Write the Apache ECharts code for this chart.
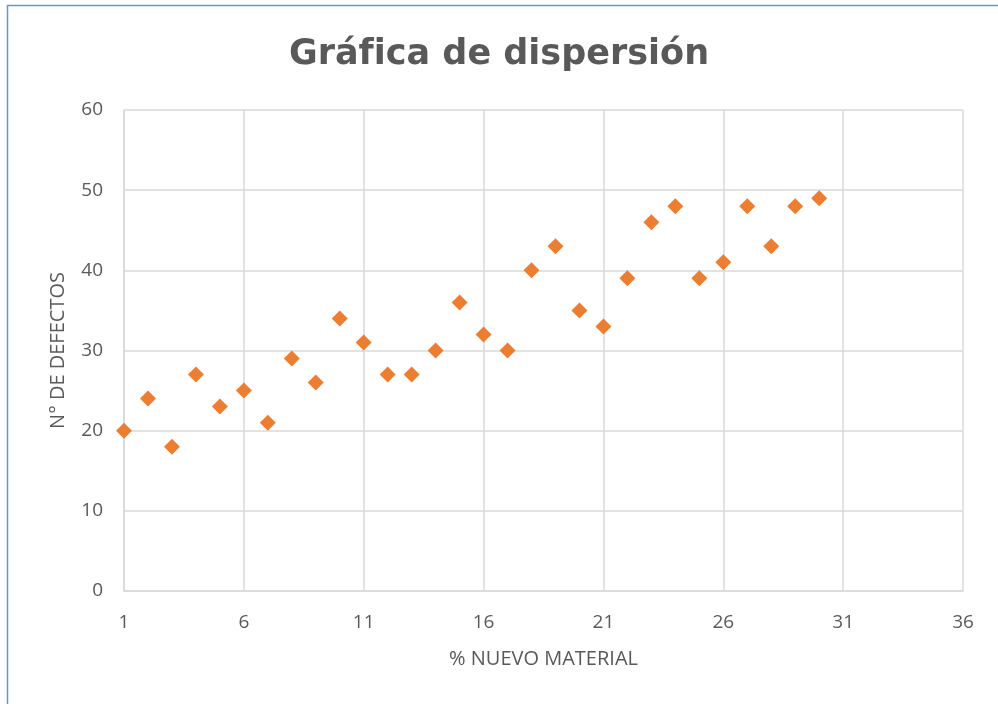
<!DOCTYPE html>
<html lang="es">
<head>
    <meta charset="UTF-8">
    <title>Gráfica de dispersión</title>
    <script src="https://cdn.jsdelivr.net/npm/echarts@6/dist/echarts.min.js"></script>
    <style>
        html, body { margin: 0; padding: 0; background: #fff; }
    </style>
</head>
<body>
<div id="box" style="width: 998px;height:704px;"></div>
<script>
    // datos
    var material = [1, 2, 3, 4, 5, 6, 7, 8, 9, 10, 11, 12, 13, 14, 15, 16, 17, 18, 19, 20, 21, 22, 23, 24, 25, 26, 27, 28, 29, 30];
    var defectos = [20, 24, 18, 27, 23, 25, 21, 29, 26, 34, 31, 27, 27, 30, 36, 32, 30, 40, 43, 35, 33, 39, 46, 48, 39, 41, 48, 43, 48, 49];

    var puntos = [];
    for (var i = 0; i < material.length; i++) {
        puntos.push([material[i], defectos[i]]);
    }

    var myChart = echarts.init(document.getElementById('box'));
    var textoGris = '#595959';
    var option = {
        title: {
            text: 'Gráfica de dispersión',
            left: 'center',
            top: 32,
            textStyle: {
                fontFamily: 'DejaVu Sans',
                fontSize: 35,
                fontWeight: 'bold',
                color: textoGris
            }
        },
        graphic: [{
            type: 'rect',
            shape: { x: 7.5, y: 5.5, width: 1100, height: 800 },
            style: { fill: 'none', stroke: '#5B9BD5', lineWidth: 1.5 }
        }],
        grid: {
            left: 124,
            right: 35,
            top: 110,
            bottom: 113
        },
        xAxis: {
            type: 'value',
            min: 1,
            max: 36,
            interval: 5,
            name: '% NUEVO MATERIAL',
            nameLocation: 'middle',
            nameGap: 58,
            nameTextStyle: { fontFamily: 'Open Sans', fontSize: 20, color: textoGris },
            axisLine: { show: true, lineStyle: { color: '#d9d9d9', width: 1.5 } },
            axisTick: { show: false },
            axisLabel: { fontFamily: 'Open Sans', fontSize: 19, color: textoGris, margin: 22 },
            splitLine: { show: true, lineStyle: { color: '#d9d9d9', width: 1.5 } }
        },
        yAxis: {
            type: 'value',
            min: 0,
            max: 60,
            interval: 10,
            name: 'N° DE DEFECTOS',
            nameLocation: 'middle',
            nameGap: 56,
            nameTextStyle: { fontFamily: 'Open Sans', fontSize: 20, color: textoGris },
            axisLine: { show: true, lineStyle: { color: '#d9d9d9', width: 1.5 } },
            axisTick: { show: false },
            axisLabel: { fontFamily: 'Open Sans', fontSize: 19, color: textoGris, margin: 21 },
            splitLine: { show: true, lineStyle: { color: '#d9d9d9', width: 1.5 } }
        },
        series: [{
            type: 'scatter',
            symbol: 'diamond',
            symbolSize: 16,
            itemStyle: { color: '#ED7D31', opacity: 1 },
            data: puntos
        }]
    };
    myChart.setOption(option);
</script>
</body>
</html>
